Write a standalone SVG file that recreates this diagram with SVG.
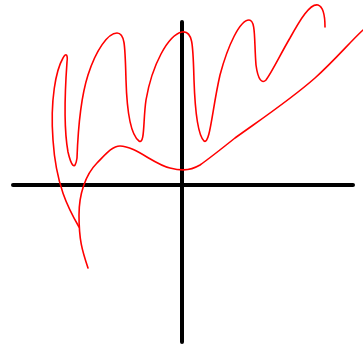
<svg xmlns="http://www.w3.org/2000/svg" width="363" height="345" viewBox="0 0 363 345">
<style>
.axis{stroke:#000;stroke-width:4;stroke-linecap:round;fill:none}
.curve{stroke:#ff0000;stroke-width:1.6;fill:none;stroke-linecap:round;stroke-linejoin:round}
</style>
<rect width="363" height="345" fill="#fff"/>
<g id="axes">
<line class="axis" x1="13" y1="185" x2="353" y2="185"/>
<line class="axis" x1="182" y1="22" x2="182" y2="342"/>
</g>
<g id="curves">
<path id="wave" class="curve" d="M79,227 C68,208 56,185 53,140 C50,100 56,70 63,58 C66,52 68,55 67,62 C65,90 64,130 68,152 C71,165 75,172 77,158 C78,130 80,100 88,75 C96,50 108,33 117,33 C125,33 125,45 126,80 C127,115 131,135 139,141 C145,145 143,120 146,100 C152,65 168,35 182,32 C193,30 193,45 194,80 C195,110 198,135 204,141 C210,145 212,110 220,75 C228,45 240,20 249,20 C256,20 254,40 256,65 C258,80 262,84 266,80 C272,72 280,55 290,38 C300,20 310,3 318,5 C324,7 325,20 325,27"/>
<path id="rise" class="curve" d="M88,268 C82,250 79,240 79,215 C79,195 85,175 97,163 C105,155 112,146 120,146 C135,146 155,165 170,168 C178,170 188,172 200,165 C210,158 220,150 235,138 C260,120 290,100 315,78 C335,60 350,42 363,30"/>
</g>
</svg>
